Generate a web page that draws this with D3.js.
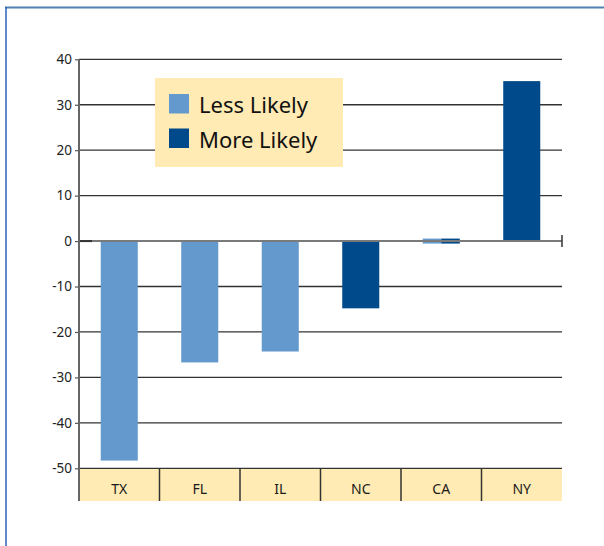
<!DOCTYPE html>
<html>
<head>
<meta charset="utf-8">
<script src="https://cdn.jsdelivr.net/npm/d3@7"></script>
<style>
  html, body { margin: 0; padding: 0; background: #fff; }
  svg { display: block; }
  text { font-family: "Noto Sans", "Open Sans", sans-serif; }
</style>
</head>
<body>
<svg id="chart" width="604" height="546"></svg>
<script>
const categories = ["TX", "FL", "IL", "NC", "CA", "NY"];
const lessLikely = [-48.3, -26.7, -24.3, null, 0, null];
const moreLikely = [null, null, null, -14.8, 0, 35.2];
const seriesNames = ["Less Likely", "More Likely"];
const seriesColors = ["#6399cc", "#004a8c"];
const yTicks = [40, 30, 20, 10, 0, -10, -20, -30, -40, -50];

(function () {
const svg = d3.select("#chart");
const pLeft = 79, pRight = 562, pTop = 59.3, pBottom = 468.3, stripBottom = 501;

// frame
svg.append("line").attr("x1", 5).attr("x2", 604).attr("y1", 7.5).attr("y2", 7.5)
  .attr("stroke", "#4f81b5").attr("stroke-width", 2);
svg.append("line").attr("x1", 6).attr("x2", 6).attr("y1", 7).attr("y2", 546)
  .attr("stroke", "#2a62b8").attr("stroke-width", 1.5);

const y = d3.scaleLinear().domain([-50, 40]).range([pBottom, pTop]);
const x = d3.scaleBand().domain(categories).range([pLeft, pRight]).paddingInner(0.54).paddingOuter(0.27);
const xStep = d3.scaleBand().domain(categories).range([pLeft, pRight]);

// category strip
svg.append("rect").attr("x", pLeft).attr("y", pBottom).attr("width", pRight - pLeft)
  .attr("height", stripBottom - pBottom).attr("fill", "#ffebb3");

// gridlines
svg.append("g").selectAll("line").data(yTicks.filter(t => t !== 0)).join("line")
  .attr("x1", pLeft).attr("x2", pRight)
  .attr("y1", d => y(d)).attr("y2", d => y(d))
  .attr("stroke", "#333").attr("stroke-width", 1.3);

// category dividers
svg.append("g").selectAll("line").data(categories.slice(1)).join("line")
  .attr("x1", d => xStep(d)).attr("x2", d => xStep(d))
  .attr("y1", pBottom).attr("y2", stripBottom)
  .attr("stroke", "#333").attr("stroke-width", 1.5);

// category labels
svg.append("g").selectAll("text").data(categories).join("text")
  .attr("x", d => xStep(d) + xStep.bandwidth() / 2)
  .attr("y", 494)
  .attr("text-anchor", "middle")
  .attr("font-size", 14).attr("fill", "#1a1a1a")
  .text(d => d);

// legend
const lg = svg.append("g");
lg.append("rect").attr("x", 155).attr("y", 78).attr("width", 188).attr("height", 89).attr("fill", "#ffebb3");
seriesNames.forEach((name, i) => {
  lg.append("rect").attr("x", 169).attr("y", 94 + i * 34.5).attr("width", 20).attr("height", 19.5)
    .attr("fill", seriesColors[i]);
  lg.append("text").attr("x", 199).attr("y", 113 + i * 34.5)
    .attr("font-size", 22).attr("fill", "#111").text(name);
});

// bars
const data = categories.map((c, i) => {
  const vals = [];
  if (lessLikely[i] !== null) vals.push({ s: 0, v: lessLikely[i] });
  if (moreLikely[i] !== null) vals.push({ s: 1, v: moreLikely[i] });
  return { c, vals };
});
const barsG = svg.append("g");
data.forEach(d => {
  const sub = d3.scaleBand().domain(d.vals.map(v => v.s)).range([x(d.c), x(d.c) + x.bandwidth()]);
  d.vals.forEach(v => {
    let y0 = y(Math.max(0, v.v)), h = Math.abs(y(v.v) - y(0));
    if (h < 5) { y0 = y(0) - 2.5; h = 5; }
    barsG.append("rect")
      .attr("x", sub(v.s)).attr("width", sub.bandwidth())
      .attr("y", y0).attr("height", h)
      .attr("fill", seriesColors[v.s]);
  });
});

// zero line
svg.append("line").attr("x1", pLeft).attr("x2", pRight).attr("y1", y(0)).attr("y2", y(0))
  .attr("stroke", "#7a7a7a").attr("stroke-width", 2);
svg.append("line").attr("x1", pLeft).attr("x2", pLeft + 13).attr("y1", y(0)).attr("y2", y(0))
  .attr("stroke", "#333").attr("stroke-width", 2);
svg.append("line").attr("x1", pRight).attr("x2", pRight).attr("y1", y(0) - 6).attr("y2", y(0) + 6)
  .attr("stroke", "#333").attr("stroke-width", 1.5);

// y axis
const yAxis = d3.axisLeft(y).tickValues(yTicks).tickSize(4).tickPadding(3).tickFormat(d => String(d));
const ax = svg.append("g").attr("transform", `translate(${pLeft},0)`).call(yAxis);
ax.select(".domain").remove();
ax.selectAll(".tick line").attr("stroke", "#555").attr("stroke-width", 1.2);
ax.selectAll(".tick text").attr("font-size", 13.5).attr("fill", "#222")
  .attr("font-family", "'Noto Sans', 'Open Sans', sans-serif");
svg.append("line").attr("x1", pLeft).attr("x2", pLeft).attr("y1", pTop).attr("y2", stripBottom)
  .attr("stroke", "#666").attr("stroke-width", 2);
})();
</script>
</body>
</html>
